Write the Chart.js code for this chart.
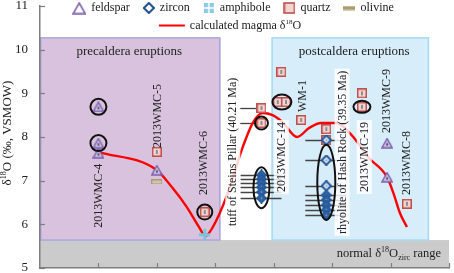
<!DOCTYPE html>
<html>
<head>
<meta charset="utf-8">
<script src="https://cdn.jsdelivr.net/npm/chart.js@4.4.1/dist/chart.umd.min.js"></script>
<style>
html, body { margin: 0; padding: 0; background: #fff; }
</style>
</head>
<body>
<canvas id="grafico" width="454" height="273"></canvas>
<script>
// mineral d18O values, x is position along the sequence of samples
const feldsparX = [1.0, 1.0, 1.0, 2.0, 5.94, 5.94];
const feldsparY = [8.69, 7.86, 7.63, 7.24, 7.86, 7.08];
const zirconX = [3.79, 3.79, 3.79, 3.79, 3.79, 3.79, 4.9, 4.9, 4.9, 4.9, 4.9, 4.9, 4.9, 4.9];
const zirconY = [7.13, 7.04, 6.95, 6.85, 6.74, 6.6, 7.93, 7.47, 6.88, 6.67, 6.56, 6.44, 6.33, 6.21];
const amphiboleX = [2.82];
const amphiboleY = [5.76];
const quartzX = [2.0, 2.82, 3.79, 3.79, 4.13, 4.07, 4.21, 4.47, 4.9, 4.9, 5.51, 5.51, 6.28];
const quartzY = [7.66, 6.28, 8.66, 8.32, 9.49, 8.8, 8.8, 8.39, 8.18, 7.93, 9.0, 8.69, 6.47];
const olivineX = [2.0];
const olivineY = [6.97];
const magmaX = [0.99, 2.0, 2.27, 2.51, 2.73, 2.83, 2.95, 3.19, 3.47, 3.64, 3.81, 3.98, 4.15, 4.4, 4.61, 4.81, 5.07, 5.33, 5.63, 5.94, 6.06, 6.16, 6.28];
const magmaY = [7.66, 7.24, 6.83, 6.4, 5.92, 5.73, 5.92, 6.63, 7.77, 8.32, 8.55, 8.5, 8.34, 8.0, 8.21, 8.32, 8.32, 8.05, 7.52, 7.08, 6.67, 6.26, 5.94];

// circled analyses and zircon clusters
const ringX = [1.0, 1.0, 2.82, 3.79, 4.14, 5.51];
const ringY = [8.69, 7.86, 6.28, 8.32, 8.8, 8.69];
const clusterX = [3.79, 4.9];
const clusterTop = [7.31, 7.82];
const clusterBottom = [6.37, 6.1];

// eruption groups and normal zircon range
const groupNames = ['precaldera eruptions', 'postcaldera eruptions'];
const groupStart = [0, 3.96];
const groupEnd = [3.09, 6.66];
const groupLow = 5.64;
const groupHigh = 10.27;
const normalRange = [5, 5.64];
const yTicks = [5, 6, 7, 8, 9, 10, 11];

const sampleNames = ['2013WMC-4', '2013WMC-5', '2013WMC-6', 'tuff of Steins Pillar (40.21 Ma)', '2013WMC-14', 'WM-1',
    'rhyolite of Hash Rock (39.35 Ma)', '2013WMC-19', '2013WMC-9', '2013WMC-8'];

// where each sample name sits (x, bottom of the rotated text, white box?)
const nameSpots = [[0.99, 5.92, false], [2.0, 7.75, false], [2.8, 6.67, false], [3.3, 5.96, true], [4.13, 6.74, true],
    [4.49, 8.57, false], [5.17, 5.78, true], [5.55, 6.74, true], [5.92, 8.09, false], [6.27, 6.67, false]];
const ringSize = [[8, 8], [8, 8], [7.5, 7.5], [6.5, 6.5], [9.5, 7.5], [8.5, 6]];
const clusterHalfWidth = [8, 9];

const serif = '"Liberation Serif", "Times New Roman", serif';
const f = (px) => px + 'px ' + serif;

function marcador(w, h, dibujar) {
    const c = document.createElement('canvas');
    c.width = w;
    c.height = h;
    dibujar(c.getContext('2d'));
    return c;
}

const imgFeldspar = marcador(12, 11, (c) => {
    c.beginPath(); c.moveTo(6, 1); c.lineTo(11, 10); c.lineTo(1, 10); c.closePath();
    c.fillStyle = '#d2c6e6'; c.fill();
    c.strokeStyle = '#7c5fae'; c.lineWidth = 1.5; c.stroke();
    c.fillStyle = '#222'; c.fillRect(5.4, 5.5, 1.3, 2.5);
});
const imgZircon = marcador(11, 11, (c) => {
    c.beginPath(); c.moveTo(5.5, 0.8); c.lineTo(10.2, 5.5); c.lineTo(5.5, 10.2); c.lineTo(0.8, 5.5); c.closePath();
    c.fillStyle = '#dce8f5'; c.fill();
    c.strokeStyle = '#23559a'; c.lineWidth = 2; c.stroke();
    c.fillStyle = '#777'; c.fillRect(4.8, 4.8, 1.4, 1.4);
});
const imgZirconLleno = marcador(11, 11, (c) => {
    c.beginPath(); c.moveTo(5.5, 0.8); c.lineTo(10.2, 5.5); c.lineTo(5.5, 10.2); c.lineTo(0.8, 5.5); c.closePath();
    c.fillStyle = '#2f63a4'; c.fill();
    c.strokeStyle = '#245896'; c.lineWidth = 1.6; c.stroke();
    c.fillStyle = '#8aa6c8'; c.fillRect(4.8, 4.8, 1.4, 1.4);
});
const imgQuartz = marcador(10, 10, (c) => {
    c.fillStyle = '#f3d6d4'; c.fillRect(0.75, 0.75, 8.5, 8.5);
    c.strokeStyle = '#c0504d'; c.lineWidth = 1.5; c.strokeRect(0.75, 0.75, 8.5, 8.5);
    c.fillStyle = '#8c8c8c'; c.fillRect(4, 3, 2, 4);
});
const imgAmphibole = marcador(11, 11, (c) => {
    c.strokeStyle = '#7cc3de'; c.lineWidth = 3;
    c.beginPath(); c.moveTo(5.5, 0); c.lineTo(5.5, 11); c.moveTo(0, 5.5); c.lineTo(11, 5.5); c.stroke();
});
const imgOlivine = marcador(11, 5, (c) => {
    c.fillStyle = '#d2c4aa'; c.fillRect(0.5, 0.5, 10, 4);
    c.strokeStyle = '#a89a7a'; c.lineWidth = 1; c.strokeRect(0.5, 0.5, 10, 4);
});

// legend versions
const lgFeldspar = marcador(14, 13, (c) => {
    c.beginPath(); c.moveTo(7, 1.5); c.lineTo(13, 12); c.lineTo(1, 12); c.closePath();
    c.fillStyle = '#fff'; c.fill();
    c.strokeStyle = '#7c5fae'; c.lineWidth = 1.6; c.stroke();
});
const lgZircon = marcador(12, 12, (c) => {
    c.beginPath(); c.moveTo(6, 1); c.lineTo(11, 6); c.lineTo(6, 11); c.lineTo(1, 6); c.closePath();
    c.fillStyle = '#fff'; c.fill();
    c.strokeStyle = '#1f4e8c'; c.lineWidth = 2; c.stroke();
});
const lgAmphibole = marcador(12, 12, (c) => {
    c.fillStyle = '#8ccbe2'; c.fillRect(1, 1, 10, 10);
    c.strokeStyle = '#fff'; c.lineWidth = 1.5;
    c.beginPath(); c.moveTo(6, 1); c.lineTo(6, 11); c.moveTo(1, 6); c.lineTo(11, 6); c.stroke();
});
const lgQuartz = marcador(12, 12, (c) => {
    c.fillStyle = '#f3d6d4'; c.fillRect(1, 1, 10, 10);
    c.strokeStyle = '#c0504d'; c.lineWidth = 1.6; c.strokeRect(1, 1, 10, 10);
});
const lgOlivine = marcador(12, 5, (c) => {
    c.fillStyle = '#a99e70'; c.fillRect(0, 0.5, 12, 4);
});

const puntos = (xs, ys) => xs.map((x, i) => ({ x, y: ys[i] }));

// zircons that sit close to another one of the same sample look solid
function estiloZircon(ctx) {
    const i = ctx.dataIndex;
    const junto = zirconY.some((v, j) => j !== i && zirconX[j] === zirconX[i] && Math.abs(v - zirconY[i]) < 0.15);
    return junto ? imgZirconLleno : imgZircon;
}

function textoSup(ctx, piezas, x, y) {
    // piezas: [text, size, dy]
    let cx = x;
    piezas.forEach(([t, s, dy]) => {
        ctx.font = f(s);
        ctx.fillText(t, cx, y + dy);
        cx += ctx.measureText(t).width;
    });
    return cx - x;
}
function anchoSup(ctx, piezas) {
    let w = 0;
    piezas.forEach(([t, s]) => { ctx.font = f(s); w += ctx.measureText(t).width; });
    return w;
}

const decor = {
    id: 'decor',
    beforeDatasetsDraw(chart) {
        const { ctx, chartArea: a, scales: { x, y } } = chart;
        ctx.save();
        const nTop = y.getPixelForValue(normalRange[1]);
        ctx.fillStyle = '#cbcbcb';
        ctx.fillRect(a.left, nTop, a.width, y.getPixelForValue(normalRange[0]) - nTop);

        const fills = ['#d9c2dd', '#d7edf9'];
        const borders = ['#aaa8dc', '#a6daf2'];
        const top = y.getPixelForValue(groupHigh);
        const bot = y.getPixelForValue(groupLow);
        groupNames.forEach((name, i) => {
            const x0 = x.getPixelForValue(groupStart[i]);
            const x1 = x.getPixelForValue(groupEnd[i]);
            ctx.fillStyle = fills[i];
            ctx.fillRect(x0, top, x1 - x0, bot - top);
            ctx.strokeStyle = borders[i];
            ctx.lineWidth = 1.5;
            ctx.strokeRect(x0 + 0.75, top, x1 - x0 - 1.5, bot - top);
            ctx.fillStyle = '#222';
            ctx.font = f(13);
            ctx.textAlign = 'center';
            ctx.textBaseline = 'middle';
            ctx.fillText(name, (x0 + x1) / 2 + (i === 0 ? -1 : 4), top + 14);
        });

        // horizontal error lines
        ctx.strokeStyle = '#444';
        ctx.lineWidth = 1.3;
        zirconX.forEach((zx, i) => {
            const px = x.getPixelForValue(zx);
            const py = Math.round(y.getPixelForValue(zirconY[i])) + 0.5;
            ctx.beginPath(); ctx.moveTo(px - 21, py); ctx.lineTo(px + 20, py); ctx.stroke();
        });
        quartzX.forEach((qx, i) => {
            if (qx !== 3.79) return;
            const px = x.getPixelForValue(qx);
            const py = Math.round(y.getPixelForValue(quartzY[i])) + 0.5;
            ctx.beginPath(); ctx.moveTo(px - 22, py); ctx.lineTo(px, py); ctx.stroke();
        });
        ctx.restore();
    },
    afterDatasetsDraw(chart) {
        const { ctx, chartArea: a, scales: { x, y } } = chart;
        ctx.save();
        // sample names
        ctx.font = f(12);
        ctx.textAlign = 'left';
        ctx.textBaseline = 'middle';
        sampleNames.forEach((name, i) => {
            const [lx, ly, caja] = nameSpots[i];
            ctx.save();
            ctx.translate(x.getPixelForValue(lx), y.getPixelForValue(ly));
            ctx.rotate(-Math.PI / 2);
            const w = ctx.measureText(name).width;
            if (caja) {
                ctx.fillStyle = 'rgba(255,255,255,0.82)';
                ctx.fillRect(-2, -7.5, w + 4, 15);
            }
            ctx.fillStyle = '#222';
            ctx.fillText(name, 0, 0.5);
            ctx.restore();
        });

        // rings
        ctx.strokeStyle = '#111';
        ctx.lineWidth = 2;
        ringX.forEach((rx, i) => {
            ctx.beginPath();
            ctx.ellipse(x.getPixelForValue(rx), y.getPixelForValue(ringY[i]), ringSize[i][0], ringSize[i][1], 0, 0, Math.PI * 2);
            ctx.stroke();
        });
        clusterX.forEach((cx, i) => {
            const t = y.getPixelForValue(clusterTop[i]);
            const b = y.getPixelForValue(clusterBottom[i]);
            ctx.beginPath();
            ctx.ellipse(x.getPixelForValue(cx), (t + b) / 2, clusterHalfWidth[i], (b - t) / 2, 0, 0, Math.PI * 2);
            ctx.stroke();
        });

        // normal range label
        ctx.fillStyle = '#222';
        ctx.textBaseline = 'middle';
        const piezas = [['normal \u03b4', 12.5, 0], ['18', 8, -4], ['O', 12.5, 0], ['zirc', 8, 4], [' range', 12.5, 0]];
        const ny = (y.getPixelForValue(normalRange[0]) + y.getPixelForValue(normalRange[1])) / 2;
        textoSup(ctx, piezas, a.right - 8 - anchoSup(ctx, piezas), ny);

        // inner tick marks
        ctx.strokeStyle = '#7f7f7f';
        ctx.lineWidth = 1.2;
        yTicks.forEach((v) => {
            const py = Math.round(y.getPixelForValue(v)) + 0.5;
            ctx.beginPath(); ctx.moveTo(a.left, py); ctx.lineTo(a.left + 5, py); ctx.stroke();
        });
        for (let v = 1; v <= 7; v++) {
            const px = Math.round(x.getPixelForValue(v)) + 0.5;
            ctx.beginPath(); ctx.moveTo(px, a.bottom); ctx.lineTo(px, a.bottom - 5); ctx.stroke();
        }

        // y title
        ctx.save();
        const tit = [['\u03b4', 13, 0], ['18', 8, -4], ['O (\u2030, VSMOW)', 13, 0]];
        ctx.translate(8, (a.top + a.bottom) / 2 - 4);
        ctx.rotate(-Math.PI / 2);
        textoSup(ctx, tit, -anchoSup(ctx, tit) / 2, 0);
        ctx.restore();

        // legend
        const fila1 = [[lgFeldspar, 'feldspar'], [lgZircon, 'zircon'], [lgAmphibole, 'amphibole'], [lgQuartz, 'quartz'], [lgOlivine, 'olivine']];
        ctx.font = f(12);
        let total = 0;
        fila1.forEach(([img, t]) => { total += img.width + 5 + ctx.measureText(t).width; });
        total += 13 * (fila1.length - 1);
        let lx = 233 - total / 2;
        const ly = 8;
        fila1.forEach(([img, t]) => {
            ctx.drawImage(img, lx, ly - img.height / 2);
            lx += img.width + 5;
            ctx.font = f(12);
            ctx.fillStyle = '#222';
            ctx.fillText(t, lx, ly);
            lx += ctx.measureText(t).width + 13;
        });
        const fila2 = [['calculated magma \u03b4', 12, 0], ['18', 7, -4], ['O', 12, 0]];
        const w2 = 26 + 5 + anchoSup(ctx, fila2);
        let l2 = 230 - w2 / 2;
        ctx.strokeStyle = '#ff0000';
        ctx.lineWidth = 2;
        ctx.beginPath(); ctx.moveTo(l2, 25.5); ctx.lineTo(l2 + 26, 25.5); ctx.stroke();
        ctx.fillStyle = '#222';
        textoSup(ctx, fila2, l2 + 31, 26);
        ctx.restore();
    }
};

new Chart(document.getElementById('grafico'), {
    type: 'scatter',
    data: {
        datasets: [
            { label: 'feldspar', data: puntos(feldsparX, feldsparY), pointStyle: imgFeldspar },
            { label: 'zircon', data: puntos(zirconX, zirconY), pointStyle: estiloZircon },
            { label: 'amphibole', data: puntos(amphiboleX, amphiboleY), pointStyle: imgAmphibole },
            { label: 'quartz', data: puntos(quartzX, quartzY), pointStyle: imgQuartz },
            { label: 'olivine', data: puntos(olivineX, olivineY), pointStyle: imgOlivine },
            {
                type: 'line',
                label: 'calculated magma \u03b418O',
                data: puntos(magmaX, magmaY),
                borderColor: '#ff0000',
                borderWidth: 2.4,
                pointRadius: 0,
                cubicInterpolationMode: 'monotone',
                fill: false
            }
        ]
    },
    options: {
        responsive: false,
        animation: false,
        events: [],
        layout: { padding: { left: 0, right: 4, top: 6, bottom: 5 } },
        plugins: { legend: { display: false }, tooltip: { enabled: false } },
        scales: {
            x: {
                type: 'linear', min: 0, max: 7,
                ticks: { display: false },
                grid: { display: false, drawTicks: false },
                border: { color: '#7f7f7f', width: 1.5, z: 1 },
                afterFit: (s) => { s.height = 0; s.paddingLeft = 0; s.paddingRight = 0; }
            },
            y: {
                min: 5, max: 11,
                ticks: { stepSize: 1, padding: 12, color: '#222', font: { family: serif, size: 13 } },
                grid: { display: false, drawTicks: false },
                border: { color: '#7f7f7f', width: 1.5, z: 1 },
                afterFit: (s) => { s.width = 40; s.paddingTop = 0; s.paddingBottom = 0; }
            }
        }
    },
    plugins: [decor]
});
</script>
</body>
</html>
